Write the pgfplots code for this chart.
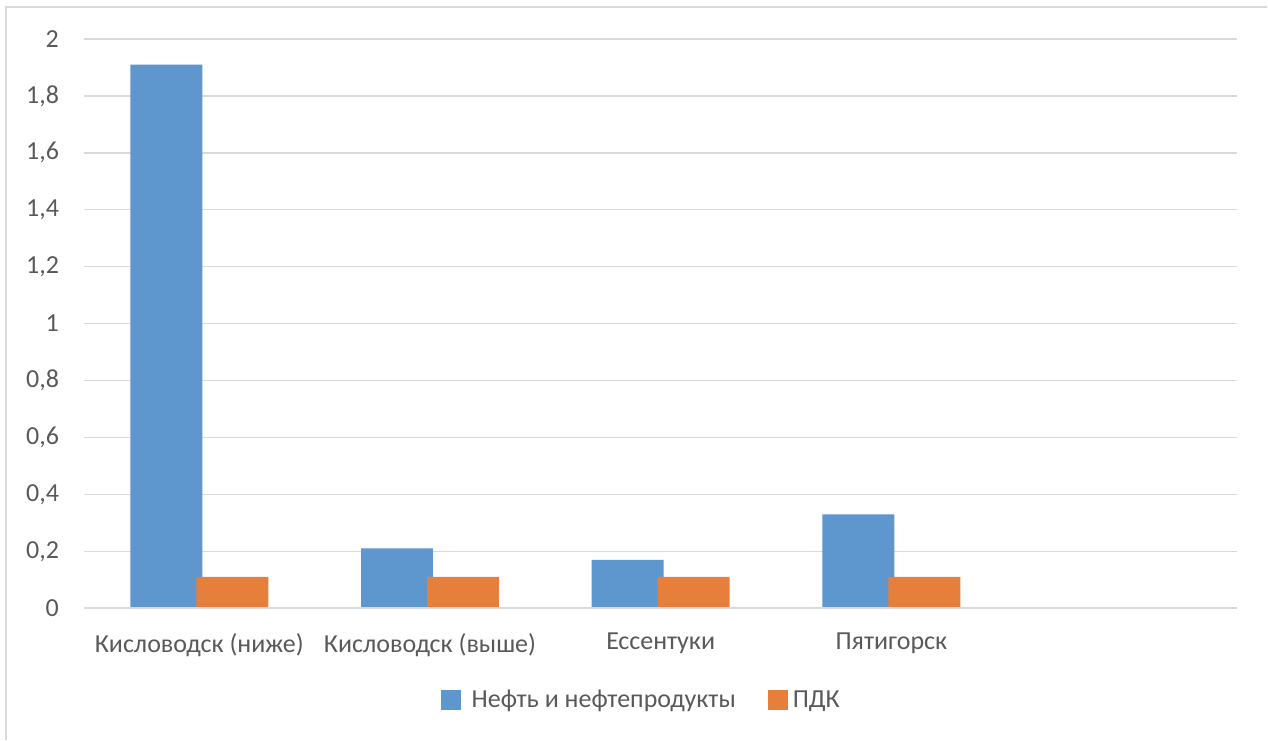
\documentclass[border=0pt]{standalone}
\usepackage{fontspec}
\setmainfont{Carlito}
\usepackage{pgfplots}
\pgfplotsset{compat=1.18}
\definecolor{cblue}{RGB}{94,151,206}
\definecolor{corange}{RGB}{230,127,60}
\definecolor{gridc}{RGB}{217,217,217}
\definecolor{txt}{RGB}{89,89,89}
\begin{document}
\begin{tikzpicture}
\path (0,0) rectangle (634pt,370pt);
\draw[gridc, line width=0.6pt] (3pt,0) -- (3pt,366.5pt) -- (634pt,366.5pt);
\begin{axis}[
  at={(42pt,65.75pt)}, anchor=south west,
  scale only axis, width=577pt, height=284.75pt,
  ymin=0, ymax=2, xmin=-0.5, xmax=4.5,
  ytick={0,0.2,...,2.01},
  xtick={0,1,2,3},
  xticklabels={Кисловодск (ниже),Кисловодск (выше),Ессентуки,Пятигорск},
  axis line style={draw=none},
  major tick length=0pt,
  ymajorgrids, xmajorgrids=false, grid style={draw=gridc, line width=0.7pt},
  /pgf/number format/assume math mode=true,
  /pgf/number format/use comma,
  tick label style={font=\fontsize{13}{15.5}\selectfont, text=txt},
  yticklabel style={xshift=-9pt},
  xticklabel style={yshift=-9pt},
  ybar, bar width=36pt,
  legend style={at={(0.484,-0.162)}, anchor=center, draw=none, fill=none,
    legend columns=2, font=\fontsize{13}{15.5}\selectfont, text=txt,
    /tikz/every even column/.append style={column sep=14pt}},
  legend image code/.code={\fill[#1, draw=none] (0pt,-5pt) rectangle (10pt,5pt);},
]
\addplot[fill=cblue, draw=none, bar shift=-16.5pt] coordinates {(0,1.91) (1,0.21) (2,0.17) (3,0.33)};
\addplot[fill=corange, draw=none, bar shift=16.5pt] coordinates {(0,0.11) (1,0.11) (2,0.11) (3,0.11)};
\legend{\hspace{3.5pt}Нефть и нефтепродукты,\hspace{0.5pt}ПДК}
\draw[gridc, line width=1pt] (axis cs:-0.5,0) -- (axis cs:4.5,0);
\end{axis}
\end{tikzpicture}
\end{document}
